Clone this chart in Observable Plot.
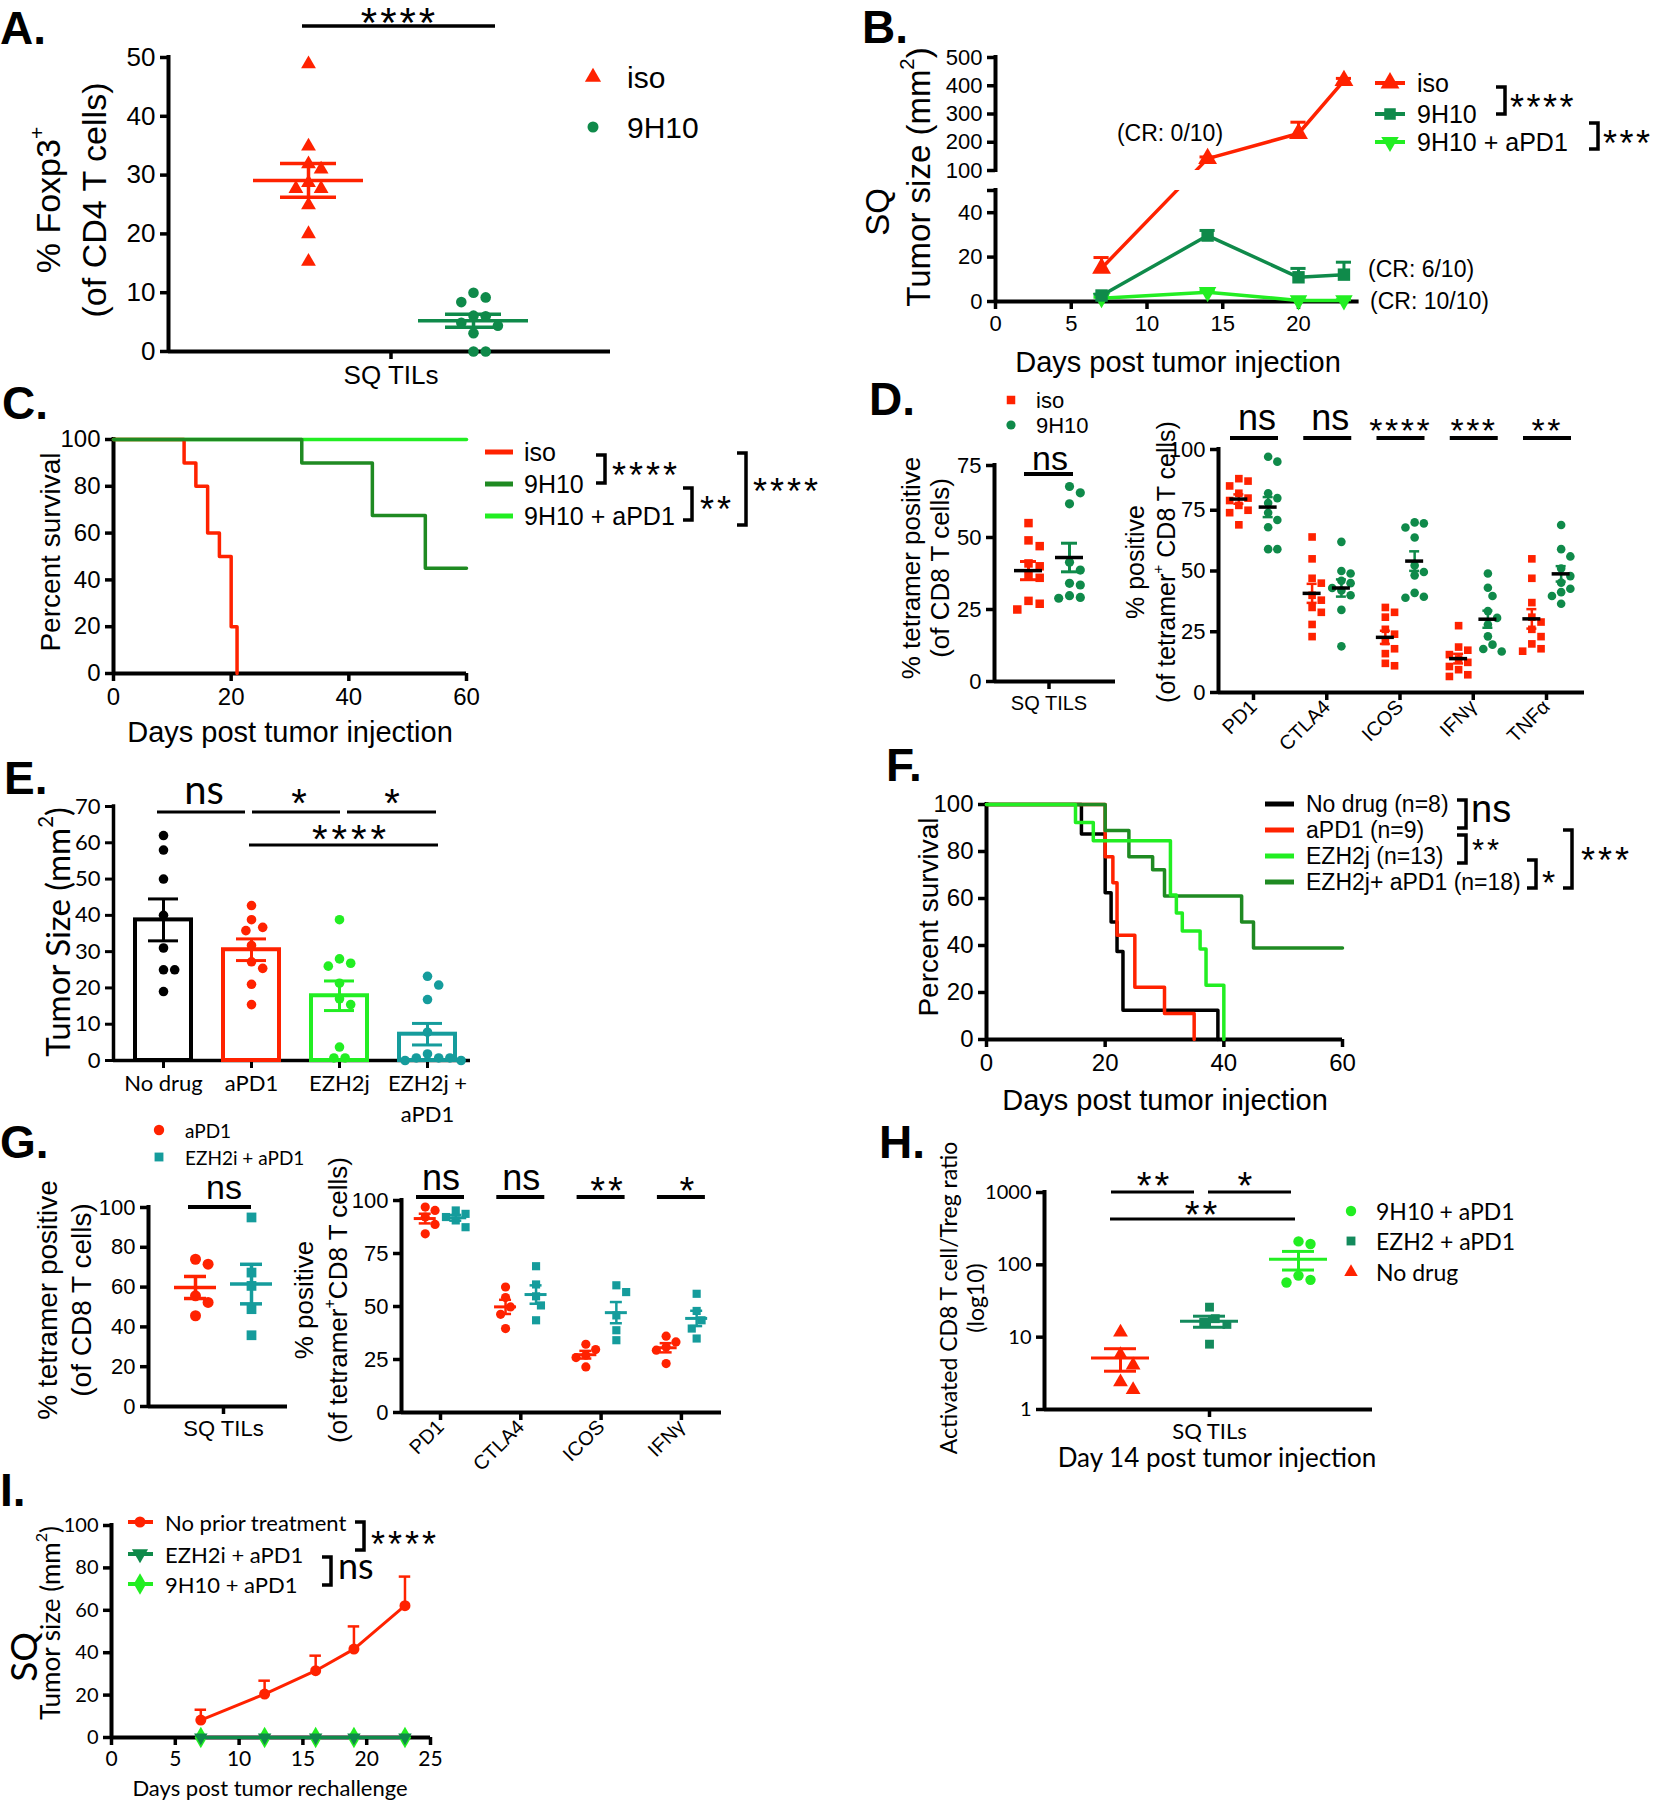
<!DOCTYPE html>
<html><head><meta charset="utf-8">
<script src="https://cdn.jsdelivr.net/npm/d3@7"></script>
<script src="https://cdn.jsdelivr.net/npm/@observablehq/plot@0.6"></script>
<style>
html,body{margin:0;padding:0;background:#fff;}
#root{position:relative;width:1655px;height:1800px;background:#fff;overflow:hidden;}
</style></head><body><div id="root"></div>
<script>
// ---------------- DATA ----------------
// A: % Foxp3+ of CD4 T cells
const A_groups = ["iso", "9H10"];
const A_iso = [48.9, 34.9, 31.9, 31.0, 28.7, 27.7, 27.7, 24.9, 20.0, 15.3];
const A_9H10 = [10.0, 9.2, 8.4, 6.1, 6.0, 4.9, 4.4, 3.1, 0.0, 0.0];
const A_yTicks = [0, 10, 20, 30, 40, 50];
// B: tumor size growth
const B_days = [7, 14, 20, 23];
const B_iso = [15, 142, 231, 418];
const B_isoSem = [4.8, 6, 40, 8];
const B_9H10 = [2.7, 29.7, 10.9, 12.1];
const B_9H10Sem = [0.6, 2.3, 4, 5.6];
const B_combo = [1.5, 4.2, 0.5, 0.5];
const B_comboSem = [0.4, 1, 0.3, 0.3];
const B_yTicks = [0, 20, 40, 50, 100, 200, 300, 400, 500];
const B_xTicks = [0, 5, 10, 15, 20];
// C: survival
const C_isoT = [0, 12, 14, 16, 18, 20, 21];
const C_isoS = [100, 90, 80, 60, 50, 20, 0];
const C_9H10T = [0, 32, 44, 53, 60];
const C_9H10S = [100, 90, 67.5, 45, 45];
const C_comboT = [0, 60];
const C_comboS = [100, 100];
// D
const D_tetIso = [55, 49, 47, 41, 40, 37, 36, 28, 27, 25];
const D_tet9H10 = [67.7, 65.5, 61.7, 41.4, 38.7, 34.1, 33.5, 29.8, 29.2, 28.9];
const D_markers = ["PD1", "CTLA4", "ICOS", "IFNγ", "TNFα"];
const D_iso = [
  [88, 87, 85, 82, 80, 79, 77, 75, 74, 69],
  [64, 55, 47, 45, 40, 38, 35, 33, 28, 23],
  [35, 33, 31, 26, 24, 21, 18, 16, 12, 11],
  [27.5, 18.7, 17.4, 15.6, 13.8, 12.4, 10.7, 9.4, 7.3, 6.6],
  [55, 47, 37, 31, 29, 26, 23, 20, 18, 17]
];
const D_9H10 = [
  [97, 95, 82, 80, 78, 74, 71, 68, 59, 59],
  [62, 50, 49, 46, 45, 43, 42, 40, 34, 19],
  [70, 69.6, 67.9, 63.8, 52.3, 49.6, 48.2, 41, 39.4, 39],
  [49, 43.1, 39.7, 33.5, 30.7, 28, 23.1, 19.7, 17.9, 16.9],
  [68.9, 59, 56, 51, 47.9, 45.2, 42.7, 41.3, 39.7, 36.5]
];
// E
const E_groups = ["No drug", "aPD1", "EZH2j", "EZH2j +\naPD1"];
const E_noDrug = [62, 58, 50, 40, 31, 25, 25, 19];
const E_aPD1 = [42.7, 38.8, 36.7, 35.8, 31.7, 27.2, 25.4, 21, 15.4];
const E_ezh2 = [38.8, 28, 26.8, 26, 21.3, 17, 15.4, 3.7, 0.7, 0.7];
const E_combo = [23.2, 20.8, 16.8, 7.8, 1.8, 0.7, 0.7, 0.7, 0, 0];
// F: survival
const F_noDrugT = [0, 16, 20, 21, 22, 23, 39];
const F_noDrugS = [100, 87.5, 62.5, 50, 37.5, 12.5, 0];
const F_aPD1T = [0, 20, 21.3, 22, 25, 30, 35];
const F_aPD1S = [100, 77.8, 66.7, 44.4, 22.2, 11.1, 0];
const F_ezhT = [0, 15, 18, 31, 32, 33, 36, 37, 40];
const F_ezhS = [100, 92.3, 84.6, 61.5, 53.8, 46.2, 38.5, 23.1, 0];
const F_comboT = [0, 20, 24, 28, 30, 43, 45, 60];
const F_comboS = [100, 88.9, 77.8, 72.2, 61.1, 50, 38.9, 38.9];
// G
const G_tetAPD1 = [74, 71.5, 55.6, 52.3, 45.6];
const G_tetCombo = [95, 67.3, 60.6, 48.9, 35.8];
const G_markers = ["PD1", "CTLA4", "ICOS", "IFNγ"];
const G_aPD1 = [[96.9, 95.3, 92.2, 88.7, 84.3], [59.2, 54.2, 49.8, 46.3, 39.6], [32.2, 29.7, 27, 25.9, 21.5], [36, 33.3, 30.9, 29.4, 23.1]];
const G_combo = [[95.3, 93.7, 92.2, 90.6, 87.4], [69, 60.4, 54.8, 50.5, 43.5], [60, 56.8, 45.8, 38.8, 34.1], [56, 47.9, 43.5, 39.6, 34.9]];
// H
const H_noDrug = [11.7, 5.7, 4.1, 2.4, 1.87];
const H_ezh2 = [26, 18, 16, 15, 8];
const H_combo = [211, 194, 71, 62, 57];
const H_yTicks = [1, 10, 100, 1000];
// I
const I_days = [7, 12, 16, 19, 23];
const I_noPrior = [8.2, 20.5, 31.5, 41.7, 62.2];
const I_noPriorSem = [4.9, 6.3, 7.1, 10.7, 13.7];
const I_ezh2 = [0, 0, 0, 0, 0];
const I_9h10 = [0, 0, 0, 0, 0];

// ---------------- STYLE ----------------
const ARIAL = "'Liberation Sans', Arial, sans-serif";
const CAL = "Lato, 'Open Sans', sans-serif";
const RED = "#ff2200", DKGREEN = "#0f8a4a", LTGREEN = "#22ee22", FOREST = "#1f8a22", TEAL = "#159c9c", HTEAL = "#138a5c";
const triangleDown = {draw(ctx, size) { const y = -Math.sqrt(size / (Math.sqrt(3) * 3)); ctx.moveTo(0, -2 * y); ctx.lineTo(-Math.sqrt(3) * y, y); ctx.lineTo(Math.sqrt(3) * y, y); ctx.closePath(); }};

const root = document.getElementById("root");
function mount(svg, left, top) {
  svg.style.position = "absolute"; svg.style.left = left + "px"; svg.style.top = top + "px"; svg.style.overflow = "visible";
  root.appendChild(svg);
}
function frame(L, T, W, H, fx0, fx1, fy0, fy1) {
  return {width: W, height: H, marginLeft: fx0 - L, marginRight: L + W - fx1, marginTop: fy0 - T, marginBottom: T + H - fy1};
}
const st = fam => ({background: "transparent", overflow: "visible", fontFamily: fam, color: "black"});

function axesMarks(o) {
  const {xd, yd, yTicks, yFmt, xTicks, xFmt, fs, xfs = fs, fam, xRotate, lw = 4, tw = 3.5, noYLine, xLineHeight, xPad = 6} = o;
  const ya = {ticks: yTicks, tickSize: 8, tickPadding: 5, strokeWidth: tw, fontSize: fs, fontFamily: fam, label: null};
  if (yFmt) ya.tickFormat = yFmt;
  const xa = {ticks: xTicks, tickSize: 8, tickPadding: xPad, strokeWidth: tw, fontSize: xfs, fontFamily: fam, label: null};
  if (xFmt) xa.tickFormat = xFmt;
  if (xLineHeight) xa.lineHeight = xLineHeight;
  if (xRotate) { xa.tickRotate = xRotate; xa.textAnchor = "end"; xa.tickPadding = 3; }
  const m = [Plot.axisY(ya), Plot.axisX(xa), Plot.ruleY([yd[0]], {x1: xd[0], x2: xd[1], strokeWidth: lw})];
  if (!noYLine) m.push(Plot.ruleX([xd[0]], {y1: yd[0], y2: yd[1], strokeWidth: lw, strokeLinecap: "square"}));
  return m;
}

function swarm(values, rad, ky, kx, tf = v => v) {
  const placed = [], off = new Array(values.length);
  const order = d3.range(values.length).sort((a, b) => values[b] - values[a] || a - b);
  for (const i of order) {
    const y = tf(values[i]) * ky;
    for (let k = 0; k < 80; k++) {
      const c = (k % 2 ? 1 : -1) * Math.ceil(k / 2) * rad;
      if (placed.every(p => Math.hypot(p.x - c, p.y - y) >= 2 * rad)) { placed.push({x: c, y}); off[i] = c / kx; break; }
    }
  }
  return off;
}

function scatterMarks(groups, o) {
  const marks = [], stats = [];
  for (const g of groups) {
    const off = swarm(g.values, g.r + (o.gap ?? 0.8), o.ky, o.kx, o.tf);
    const pts = g.values.map((v, i) => ({x: g.x + off[i], y: v}));
    marks.push(Plot.dot(pts, {x: "x", y: "y", fill: g.fill, symbol: g.symbol, r: g.r}));
    const m = d3.mean(g.values), se = d3.deviation(g.values) / Math.sqrt(g.values.length);
    stats.push({x: g.x, m, lo: m - se, hi: m + se, mc: g.meanColor || g.fill, sc: g.fill});
  }
  const mh = o.meanHalf / o.kx, ch = o.capHalf / o.kx, sw = o.sw || 3;
  marks.push(
    Plot.ruleX(stats, {x: "x", y1: "lo", y2: "hi", stroke: "sc", strokeWidth: sw}),
    Plot.ruleY(stats, {y: "lo", x1: d => d.x - ch, x2: d => d.x + ch, stroke: "sc", strokeWidth: sw}),
    Plot.ruleY(stats, {y: "hi", x1: d => d.x - ch, x2: d => d.x + ch, stroke: "sc", strokeWidth: sw}),
    Plot.ruleY(stats, {y: "m", x1: d => d.x - mh, x2: d => d.x + mh, stroke: "mc", strokeWidth: o.msw || sw})
  );
  return marks;
}

function survLine(T, S, color, sw = 3.5) {
  return Plot.line(T.map((t, i) => ({t, s: S[i]})), {x: "t", y: "s", curve: "step-after", stroke: color, strokeWidth: sw});
}

// ---------------- PANEL A ----------------
{
  const L = 0, T = 0, W = 720, H = 400, fx0 = 168, fx1 = 610, fy0 = 57, fy1 = 351, c0 = 308, kx = 165;
  const xd = [(fx0 - c0) / kx, (fx1 - c0) / kx], yd = [0, 50], ky = (fy1 - fy0) / 50;
  mount(Plot.plot({...frame(L, T, W, H, fx0, fx1, fy0, fy1), x: {domain: xd}, y: {domain: yd}, style: st(ARIAL),
    marks: [
      ...axesMarks({xd, yd, yTicks: A_yTicks, xTicks: [0.5], xFmt: () => "SQ TILs", fs: 26, xfs: 26, fam: ARIAL}),
      ...scatterMarks([
        {x: 0, values: A_iso, fill: RED, symbol: "triangle", r: 5.5},
        {x: 1, values: A_9H10, fill: DKGREEN, symbol: "circle", r: 5.3}
      ], {kx, ky, meanHalf: 55, capHalf: 28, sw: 3.5})
    ]}), L, T);
}

// ---------------- PANEL B ----------------
const gB = v => v <= 50 ? v : v >= 100 ? 59 + (v - 100) * 50.9 / 400 : 50 + (v - 50) * 9 / 50;
{
  const L = 860, T = 0, W = 795, H = 390, fx0 = 995, fx1 = 1358.6, fy0 = 57, fy1 = 301;
  const xd = [0, 24], yd = [0, gB(500)];
  const lab = new Map(B_yTicks.map(v => [gB(v).toFixed(3), v === 50 ? "" : String(v)]));
  const marks = [
    ...axesMarks({xd, yd, yTicks: B_yTicks.map(gB), yFmt: t => lab.get((+t).toFixed(3)), xTicks: B_xTicks, fs: 22, fam: ARIAL, noYLine: true}),
    Plot.ruleX([0], {y1: gB(0), y2: gB(50), strokeWidth: 4, strokeLinecap: "square"}),
    Plot.ruleX([0], {y1: gB(100), y2: gB(500), strokeWidth: 4, strokeLinecap: "square"})
  ];
  const ser = [
    {vals: B_combo, sem: B_comboSem, color: LTGREEN, symbol: triangleDown, r: 6.5},
    {vals: B_9H10, sem: B_9H10Sem, color: DKGREEN, symbol: "square", r: 7},
    {vals: B_iso, sem: B_isoSem, color: RED, symbol: "triangle", r: 7}
  ];
  for (const s of ser) {
    const rows = B_days.map((d, i) => ({d, y: gB(s.vals[i]), top: gB(s.vals[i] + s.sem[i])}));
    marks.push(
      Plot.line(rows, {x: "d", y: "y", stroke: s.color, strokeWidth: 3.5}),
      Plot.ruleX(rows, {x: "d", y1: "y", y2: "top", stroke: s.color, strokeWidth: 3}),
      Plot.ruleY(rows, {y: "top", x1: d => d.d - 0.5, x2: d => d.d + 0.5, stroke: s.color, strokeWidth: 3}),
      Plot.dot(rows, {x: "d", y: "y", symbol: s.symbol, r: s.r, fill: s.color})
    );
  }
  marks.push(Plot.rect([0], {x1: 0.3, x2: 24, y1: gB(50), y2: gB(100), fill: "white"}));
  mount(Plot.plot({...frame(L, T, W, H, fx0, fx1, fy0, fy1), x: {domain: xd}, y: {domain: yd}, style: st(ARIAL), marks}), L, T);
}

// ---------------- PANEL C ----------------
{
  const L = 0, T = 380, W = 830, H = 375, fx0 = 113, fx1 = 466, fy0 = 439, fy1 = 673;
  const xd = [0, 60], yd = [0, 100];
  mount(Plot.plot({...frame(L, T, W, H, fx0, fx1, fy0, fy1), x: {domain: xd}, y: {domain: yd}, style: st(ARIAL),
    marks: [
      ...axesMarks({xd, yd, yTicks: [0, 20, 40, 60, 80, 100], xTicks: [0, 20, 40, 60], fs: 24, fam: ARIAL}),
      survLine(C_comboT, C_comboS, LTGREEN),
      survLine(C_isoT, C_isoS, RED),
      survLine(C_9H10T, C_9H10S, FOREST)
    ]}), L, T);
}

// ---------------- PANEL D ----------------
{
  const L = 860, T = 380, W = 270, H = 375, fx0 = 994, fx1 = 1115, fy0 = 465, fy1 = 681, c0 = 1028, kx = 41;
  const xd = [(fx0 - c0) / kx, (fx1 - c0) / kx], yd = [0, 75], ky = (fy1 - fy0) / 75;
  mount(Plot.plot({...frame(L, T, W, H, fx0, fx1, fy0, fy1), x: {domain: xd}, y: {domain: yd}, style: st(ARIAL),
    marks: [
      ...axesMarks({xd, yd, yTicks: [0, 25, 50, 75], xTicks: [0.5], xFmt: () => "SQ TILS", fs: 22, xfs: 20, fam: ARIAL}),
      ...scatterMarks([
        {x: 0, values: D_tetIso, fill: RED, symbol: "square", r: 4.8, meanColor: "black"},
        {x: 1, values: D_tet9H10, fill: DKGREEN, symbol: "circle", r: 4.6, meanColor: "black"}
      ], {kx, ky, meanHalf: 14, capHalf: 8, sw: 3, msw: 3.5})
    ]}), L, T);
}
{
  const L = 1130, T = 380, W = 525, H = 375, fx0 = 1218, fx1 = 1584, fy0 = 449, fy1 = 692, c0 = 1253, kx = 73.25;
  const xd = [(fx0 - c0) / kx, (fx1 - c0) / kx], yd = [0, 100], ky = (fy1 - fy0) / 100;
  const groups = [];
  D_markers.forEach((m, i) => {
    groups.push({x: i - 0.2, values: D_iso[i], fill: RED, symbol: "square", r: 4.3, meanColor: "black"});
    groups.push({x: i + 0.2, values: D_9H10[i], fill: DKGREEN, symbol: "circle", r: 4.3, meanColor: "black"});
  });
  mount(Plot.plot({...frame(L, T, W, H, fx0, fx1, fy0, fy1), x: {domain: xd}, y: {domain: yd}, style: st(ARIAL),
    marks: [
      ...axesMarks({xd, yd, yTicks: [0, 25, 50, 75, 100], xTicks: d3.range(D_markers.length), xFmt: i => D_markers[i], fs: 22, xfs: 20, fam: ARIAL, xRotate: -45}),
      ...scatterMarks(groups, {kx, ky, meanHalf: 9, capHalf: 5, sw: 2.5, msw: 3.5, gap: 0.3})
    ]}), L, T);
}

// ---------------- PANEL E ----------------
{
  const L = 0, T = 760, W = 490, H = 370, fx0 = 113, fx1 = 470, fy0 = 806, fy1 = 1060, c0 = 163, kx = 88;
  const xd = [(fx0 - c0) / kx, (fx1 - c0) / kx], yd = [0, 70], ky = (fy1 - fy0) / 70;
  const sets = [[E_noDrug, "black"], [E_aPD1, RED], [E_ezh2, LTGREEN], [E_combo, TEAL]];
  const stats = sets.map(([v, c], i) => { const m = d3.mean(v), se = d3.deviation(v) / Math.sqrt(v.length); return {i, m, lo: m - se, hi: m + se, c}; });
  const bw = 28 / kx, ch = 15 / kx;
  const marks = [
    ...axesMarks({xd, yd, yTicks: d3.range(0, 71, 10), xTicks: d3.range(4), xFmt: i => E_groups[i], fs: 22, xfs: 22, fam: CAL, lw: 3.5, tw: 3, xLineHeight: 1.4, xPad: 1}),
    Plot.rect(stats, {x1: d => d.i - bw, x2: d => d.i + bw, y1: 0, y2: "m", fill: "none", stroke: "c", strokeWidth: 4})
  ];
  sets.forEach(([v, c], i) => {
    const off = swarm(v, 5.6, ky, kx);
    marks.push(Plot.dot(v.map((y, j) => ({x: i + off[j], y})), {x: "x", y: "y", fill: c, r: 4.8}));
  });
  marks.push(
    Plot.ruleX(stats, {x: "i", y1: "lo", y2: "hi", stroke: "c", strokeWidth: 3}),
    Plot.ruleY(stats, {y: "lo", x1: d => d.i - ch, x2: d => d.i + ch, stroke: "c", strokeWidth: 3}),
    Plot.ruleY(stats, {y: "hi", x1: d => d.i - ch, x2: d => d.i + ch, stroke: "c", strokeWidth: 3})
  );
  mount(Plot.plot({...frame(L, T, W, H, fx0, fx1, fy0, fy1), x: {domain: xd}, y: {domain: yd}, style: st(CAL), marks}), L, T);
}

// ---------------- PANEL F ----------------
{
  const L = 880, T = 740, W = 775, H = 385, fx0 = 986, fx1 = 1342, fy0 = 804, fy1 = 1039;
  const xd = [0, 60], yd = [0, 100];
  mount(Plot.plot({...frame(L, T, W, H, fx0, fx1, fy0, fy1), x: {domain: xd}, y: {domain: yd}, style: st(ARIAL),
    marks: [
      ...axesMarks({xd, yd, yTicks: [0, 20, 40, 60, 80, 100], xTicks: [0, 20, 40, 60], fs: 24, fam: ARIAL}),
      survLine(F_noDrugT, F_noDrugS, "black"),
      survLine(F_aPD1T, F_aPD1S, RED),
      survLine(F_comboT, F_comboS, FOREST),
      survLine(F_ezhT, F_ezhS, LTGREEN)
    ]}), L, T);
}

// ---------------- PANEL G ----------------
{
  const L = 0, T = 1125, W = 300, H = 365, fx0 = 148, fx1 = 287, fy0 = 1207, fy1 = 1406, c0 = 195, kx = 56;
  const xd = [(fx0 - c0) / kx, (fx1 - c0) / kx], yd = [0, 100], ky = (fy1 - fy0) / 100;
  mount(Plot.plot({...frame(L, T, W, H, fx0, fx1, fy0, fy1), x: {domain: xd}, y: {domain: yd}, style: st(ARIAL),
    marks: [
      ...axesMarks({xd, yd, yTicks: [0, 20, 40, 60, 80, 100], xTicks: [0.5], xFmt: () => "SQ TILs", fs: 22, xfs: 22, fam: ARIAL}),
      ...scatterMarks([
        {x: 0, values: G_tetAPD1, fill: RED, symbol: "circle", r: 5.5},
        {x: 1, values: G_tetCombo, fill: TEAL, symbol: "square", r: 5.5}
      ], {kx, ky, meanHalf: 21, capHalf: 11, sw: 3.5})
    ]}), L, T);
}
{
  const L = 300, T = 1125, W = 440, H = 365, fx0 = 401, fx1 = 721, fy0 = 1200, fy1 = 1412, c0 = 440, kx = 80.3;
  const xd = [(fx0 - c0) / kx, (fx1 - c0) / kx], yd = [0, 100], ky = (fy1 - fy0) / 100;
  const groups = [];
  G_markers.forEach((m, i) => {
    groups.push({x: i - 0.19, values: G_aPD1[i], fill: RED, symbol: "circle", r: 4.6});
    groups.push({x: i + 0.19, values: G_combo[i], fill: TEAL, symbol: "square", r: 4.6});
  });
  mount(Plot.plot({...frame(L, T, W, H, fx0, fx1, fy0, fy1), x: {domain: xd}, y: {domain: yd}, style: st(ARIAL),
    marks: [
      ...axesMarks({xd, yd, yTicks: [0, 25, 50, 75, 100], xTicks: d3.range(G_markers.length), xFmt: i => G_markers[i], fs: 22, xfs: 20, fam: ARIAL, xRotate: -45}),
      ...scatterMarks(groups, {kx, ky, meanHalf: 11, capHalf: 6, sw: 2.5, msw: 3, gap: 0.3})
    ]}), L, T);
}

// ---------------- PANEL H ----------------
{
  const L = 880, T = 1125, W = 560, H = 360, fx0 = 1044, fx1 = 1372, fy0 = 1192, fy1 = 1409, c0 = 1120, kx = 89;
  const xd = [(fx0 - c0) / kx, (fx1 - c0) / kx], yd = [1, 1000], ky = (fy1 - fy0) / 3;
  mount(Plot.plot({...frame(L, T, W, H, fx0, fx1, fy0, fy1), x: {domain: xd}, y: {type: "log", domain: yd}, style: st(CAL),
    marks: [
      ...axesMarks({xd, yd, yTicks: H_yTicks, yFmt: d => String(d), xTicks: [1], xFmt: () => "SQ TILs", fs: 20, xfs: 22, fam: CAL}),
      ...scatterMarks([
        {x: 0, values: H_noDrug, fill: RED, symbol: "triangle", r: 5.5},
        {x: 1, values: H_ezh2, fill: HTEAL, symbol: "square", r: 5},
        {x: 2, values: H_combo, fill: LTGREEN, symbol: "circle", r: 5.2}
      ], {kx, ky, tf: Math.log10, meanHalf: 29, capHalf: 16, sw: 3})
    ]}), L, T);
}

// ---------------- PANEL I ----------------
{
  const L = 0, T = 1490, W = 470, H = 310, fx0 = 111, fx1 = 430, fy0 = 1525, fy1 = 1737;
  const xd = [0, 25], yd = [0, 100];
  const rows = I_days.map((d, i) => ({d, y: I_noPrior[i], top: I_noPrior[i] + I_noPriorSem[i]}));
  const g1 = I_days.map((d, i) => ({d, y: I_9h10[i]}));
  const g2 = I_days.map((d, i) => ({d, y: I_ezh2[i]}));
  mount(Plot.plot({...frame(L, T, W, H, fx0, fx1, fy0, fy1), x: {domain: xd}, y: {domain: yd}, style: st(CAL),
    marks: [
      ...axesMarks({xd, yd, yTicks: [0, 20, 40, 60, 80, 100], xTicks: [0, 5, 10, 15, 20, 25], fs: 20, xfs: 21, fam: CAL}),
      Plot.line(g1, {x: "d", y: "y", stroke: LTGREEN, strokeWidth: 3}),
      Plot.dot(g1, {x: "d", y: "y", symbol: "diamond", r: 6.5, fill: LTGREEN}),
      Plot.line(g2, {x: "d", y: "y", stroke: DKGREEN, strokeWidth: 3}),
      Plot.dot(g2, {x: "d", y: "y", symbol: triangleDown, r: 5, fill: DKGREEN}),
      Plot.ruleX(rows, {x: "d", y1: "y", y2: "top", stroke: RED, strokeWidth: 2.5}),
      Plot.ruleY(rows, {y: "top", x1: d => d.d - 0.45, x2: d => d.d + 0.45, stroke: RED, strokeWidth: 2.5}),
      Plot.line(rows, {x: "d", y: "y", stroke: RED, strokeWidth: 3}),
      Plot.dot(rows, {x: "d", y: "y", r: 5.5, fill: RED})
    ]}), L, T);
}

// ---------------- ANNOTATIONS (titles, legends, significance) ----------------
const ov = d3.select(root).append("svg").attr("width", 1655).attr("height", 1800)
  .style("position", "absolute").style("left", "0px").style("top", "0px").style("pointer-events", "none");
function txt(x, y, parts, o = {}) {
  const {size = 24, family = ARIAL, anchor = "middle", weight = 400, rotate = 0, fill = "#000", ls = 0, baseline = "central"} = o;
  const t = ov.append("text").attr("transform", `translate(${x},${y})` + (rotate ? ` rotate(${rotate})` : ""))
    .attr("font-size", size).attr("font-family", family).attr("font-weight", weight).attr("text-anchor", anchor)
    .attr("dominant-baseline", baseline).attr("fill", fill);
  if (ls) t.attr("letter-spacing", ls);
  for (const p of (Array.isArray(parts) ? parts : [parts])) {
    if (typeof p === "string") t.append("tspan").text(p);
    else t.append("tspan").attr("baseline-shift", "super").attr("font-size", size * 0.62).text(p.sup);
  }
  return t;
}
function stars(x, yc, s, size = 36, anchor = "middle", ls = 3) {
  txt(anchor === "middle" ? x + ls / 2 : x, yc + 0.2 * size, s, {size, anchor, family: ARIAL, ls, baseline: "central"});
}
function ns(x, yc, size = 34, anchor = "middle", family = ARIAL) {
  txt(x, yc + 0.26 * size, "ns", {size, anchor, family, baseline: "alphabetic"});
}
function hline(x1, x2, y, sw = 3.5, color = "#000") {
  ov.append("line").attr("x1", x1).attr("x2", x2).attr("y1", y).attr("y2", y).attr("stroke", color).attr("stroke-width", sw);
}
function bracket(x, y1, y2, w = 9, sw = 3.5) {
  ov.append("path").attr("d", `M${x - w},${y1}H${x}V${y2}H${x - w}`).attr("fill", "none").attr("stroke", "#000").attr("stroke-width", sw);
}
function sym(x, y, type, r, fill) {
  const tp = {circle: d3.symbolCircle, square: d3.symbolSquare, triangle: d3.symbolTriangle, diamond: d3.symbolDiamond}[type] || type;
  ov.append("path").attr("transform", `translate(${x},${y})`).attr("d", d3.symbol().type(tp).size(Math.PI * r * r)()).attr("fill", fill);
}
function letter(x, y, s) { txt(x, y, s, {size: 46, family: ARIAL, weight: 700, anchor: "start", baseline: "alphabetic"}); }

// Panel letters
letter(0, 44, "A."); letter(862, 43, "B."); letter(2, 419, "C."); letter(869, 415, "D.");
letter(4, 794, "E."); letter(886, 781, "F."); letter(0, 1158, "G."); letter(879, 1158, "H."); letter(0, 1506, "I.");

// A
stars(398, 14, "****", 42, "middle", 3);
hline(302, 495, 26, 3.5);
sym(593, 77, "triangle", 6, RED); txt(627, 77, "iso", {size: 30, anchor: "start"});
sym(593, 127, "circle", 5.5, DKGREEN); txt(627, 127, "9H10", {size: 30, anchor: "start"});
txt(48, 200, ["% Foxp3", {sup: "+"}], {size: 34, rotate: -90});
txt(94, 200, "(of CD4 T cells)", {size: 34, rotate: -90});

// B
txt(877, 212, "SQ", {size: 33, rotate: -90});
txt(918, 177, ["Tumor size (mm", {sup: "2"}, ")"], {size: 33, rotate: -90});
txt(1178, 362, "Days post tumor injection", {size: 29});
txt(1170, 133, "(CR: 0/10)", {size: 23});
txt(1368, 269, "(CR: 6/10)", {size: 23, anchor: "start"});
txt(1370, 301, "(CR: 10/10)", {size: 23, anchor: "start"});
[[83, RED, "triangle", 7, "iso"], [114, DKGREEN, "square", 6.5, "9H10"], [142, LTGREEN, triangleDown, 6.5, "9H10 + aPD1"]].forEach(([y, c, s, r, t]) => {
  hline(1375, 1405, y, 4, c); sym(1390, y, s, r, c); txt(1417, y, t, {size: 25, anchor: "start"});
});
bracket(1505, 87, 114); stars(1510, 100, "****", 36, "start", 2.5);
bracket(1598, 123, 149); stars(1603, 136, "***", 36, "start", 2.5);

// C
txt(50, 552, "Percent survival", {size: 28, rotate: -90});
txt(290, 732, "Days post tumor injection", {size: 29});
[[452, RED, "iso"], [484, FOREST, "9H10"], [516, LTGREEN, "9H10 + aPD1"]].forEach(([y, c, t]) => {
  hline(485, 513, y, 5, c); txt(524, y, t, {size: 25, anchor: "start"});
});
bracket(605, 455, 483); stars(612, 468, "****", 36, "start", 3);
bracket(692, 488, 520); stars(700, 502, "**", 36, "start", 3);
bracket(746, 453, 525); stars(753, 484, "****", 36, "start", 3);

// D
sym(1011, 400, "square", 4.8, RED); txt(1036, 400, "iso", {size: 22, anchor: "start"});
sym(1011, 425, "circle", 4.6, DKGREEN); txt(1036, 425, "9H10", {size: 22, anchor: "start"});
ns(1050, 461, 34); hline(1024, 1073, 474, 4);
txt(911, 568, "% tetramer positive", {size: 26, rotate: -90});
txt(940, 568, "(of CD8 T cells)", {size: 26, rotate: -90});
txt(1135, 562, "% positive", {size: 25, rotate: -90});
txt(1166, 562, ["(of tetramer", {sup: "+"}, " CD8 T cells)"], {size: 25, rotate: -90});
const dTicks = [1253, 1326.25, 1399.5, 1472.75, 1546];
["ns", "ns", "****", "***", "**"].forEach((s, i) => {
  const x = dTicks[i];
  if (s === "ns") ns(x + 4, 421, 36); else stars(x, 423, s, 34, "middle", 2.5);
  hline(x - 23, x + 25, 438, 4);
});

// E
txt(57, 932, ["Tumor Size (mm", {sup: "2"}, ")"], {size: 33, rotate: -90, family: CAL});
ns(204, 794, 40, "middle", CAL); hline(157, 245, 812, 3);
stars(299, 795, "*", 40, "middle", 0); hline(252, 340, 812, 3);
stars(392, 795, "*", 40, "middle", 0); hline(347, 436, 812, 3);
stars(349, 831, "****", 40, "middle", 4); hline(249, 438, 845, 3);

// F
txt(928, 917, "Percent survival", {size: 28, rotate: -90});
txt(1165, 1100, "Days post tumor injection", {size: 29});
[[804, "black", "No drug (n=8)"], [830, RED, "aPD1 (n=9)"], [856, LTGREEN, "EZH2j (n=13)"], [882, FOREST, "EZH2j+ aPD1 (n=18)"]].forEach(([y, c, t]) => {
  hline(1265, 1294, y, 5, c); txt(1306, y, t, {size: 23, anchor: "start"});
});
bracket(1466, 800, 828); ns(1471, 812, 38, "start");
bracket(1466, 835, 863); stars(1472, 844, "**", 31, "start", 3);
bracket(1536, 860, 888); stars(1542, 875, "*", 34, "start", 0);
bracket(1572, 830, 888); stars(1581, 853, "***", 36, "start", 3);

// G
sym(159, 1130, "circle", 5.2, RED); txt(185, 1130, "aPD1", {size: 19, anchor: "start", family: CAL});
sym(159, 1157, "square", 5, TEAL); txt(185, 1157, "EZH2i + aPD1", {size: 19, anchor: "start", family: CAL});
ns(224, 1190, 34); hline(188, 251, 1207, 4);
txt(47, 1300, "% tetramer positive", {size: 28, rotate: -90});
txt(81, 1300, "(of CD8 T cells)", {size: 28, rotate: -90});
txt(304, 1300, "% positive", {size: 26, rotate: -90});
txt(338, 1300, ["(of tetramer", {sup: "+"}, "CD8 T cells)"], {size: 26, rotate: -90});
const gTicks = [440, 520.3, 600.6, 680.9];
["ns", "ns", "**", "*"].forEach((s, i) => {
  const x = gTicks[i];
  if (s === "ns") ns(x + 1, 1181, 36); else stars(x + 6, 1183, s, 38, "middle", s.length > 1 ? 3 : 0);
  hline(x - 24, x + 24, 1197, 4);
});

// H
stars(1153, 1178, "**", 38, "middle", 3); hline(1111, 1194, 1192, 3);
stars(1245, 1178, "*", 38, "middle", 0); hline(1208, 1291, 1192, 3);
stars(1201, 1207, "**", 38, "middle", 3); hline(1110, 1295, 1219, 3);
sym(1351, 1211, "circle", 5.2, LTGREEN); txt(1376, 1211, "9H10 + aPD1", {size: 23, anchor: "start", family: CAL});
sym(1351, 1241, "square", 5, HTEAL); txt(1376, 1241, "EZH2 + aPD1", {size: 23, anchor: "start", family: CAL});
sym(1351, 1272, "triangle", 5, RED); txt(1376, 1272, "No drug", {size: 23, anchor: "start", family: CAL});
txt(948, 1298, "Activated CD8 T cell/Treg ratio", {size: 23, rotate: -90, family: CAL});
txt(975, 1298, "(log10)", {size: 23, rotate: -90, family: CAL});
txt(1217, 1457, "Day 14 post tumor injection", {size: 26, family: CAL});

// I
[[1522, RED, "circle", 5.5, "No prior treatment"], [1554, DKGREEN, triangleDown, 6, "EZH2i + aPD1"], [1584, LTGREEN, "diamond", 6.5, "9H10 + aPD1"]].forEach(([y, c, s, r, t]) => {
  hline(128, 153, y, 4, c); sym(140, y, s, r, c); txt(165, y, t, {size: 22, anchor: "start", family: CAL});
});
bracket(364, 1522, 1550); stars(371, 1537, "****", 36, "start", 3);
bracket(331, 1557, 1585); ns(338, 1570, 36, "start", CAL);
txt(22, 1657, "SQ", {size: 37, rotate: -90, family: CAL});
txt(50, 1623, ["Tumor size (mm", {sup: "2"}, ")"], {size: 26, rotate: -90, family: CAL});
txt(270, 1787, "Days post tumor rechallenge", {size: 22, family: CAL});
</script></body></html>
